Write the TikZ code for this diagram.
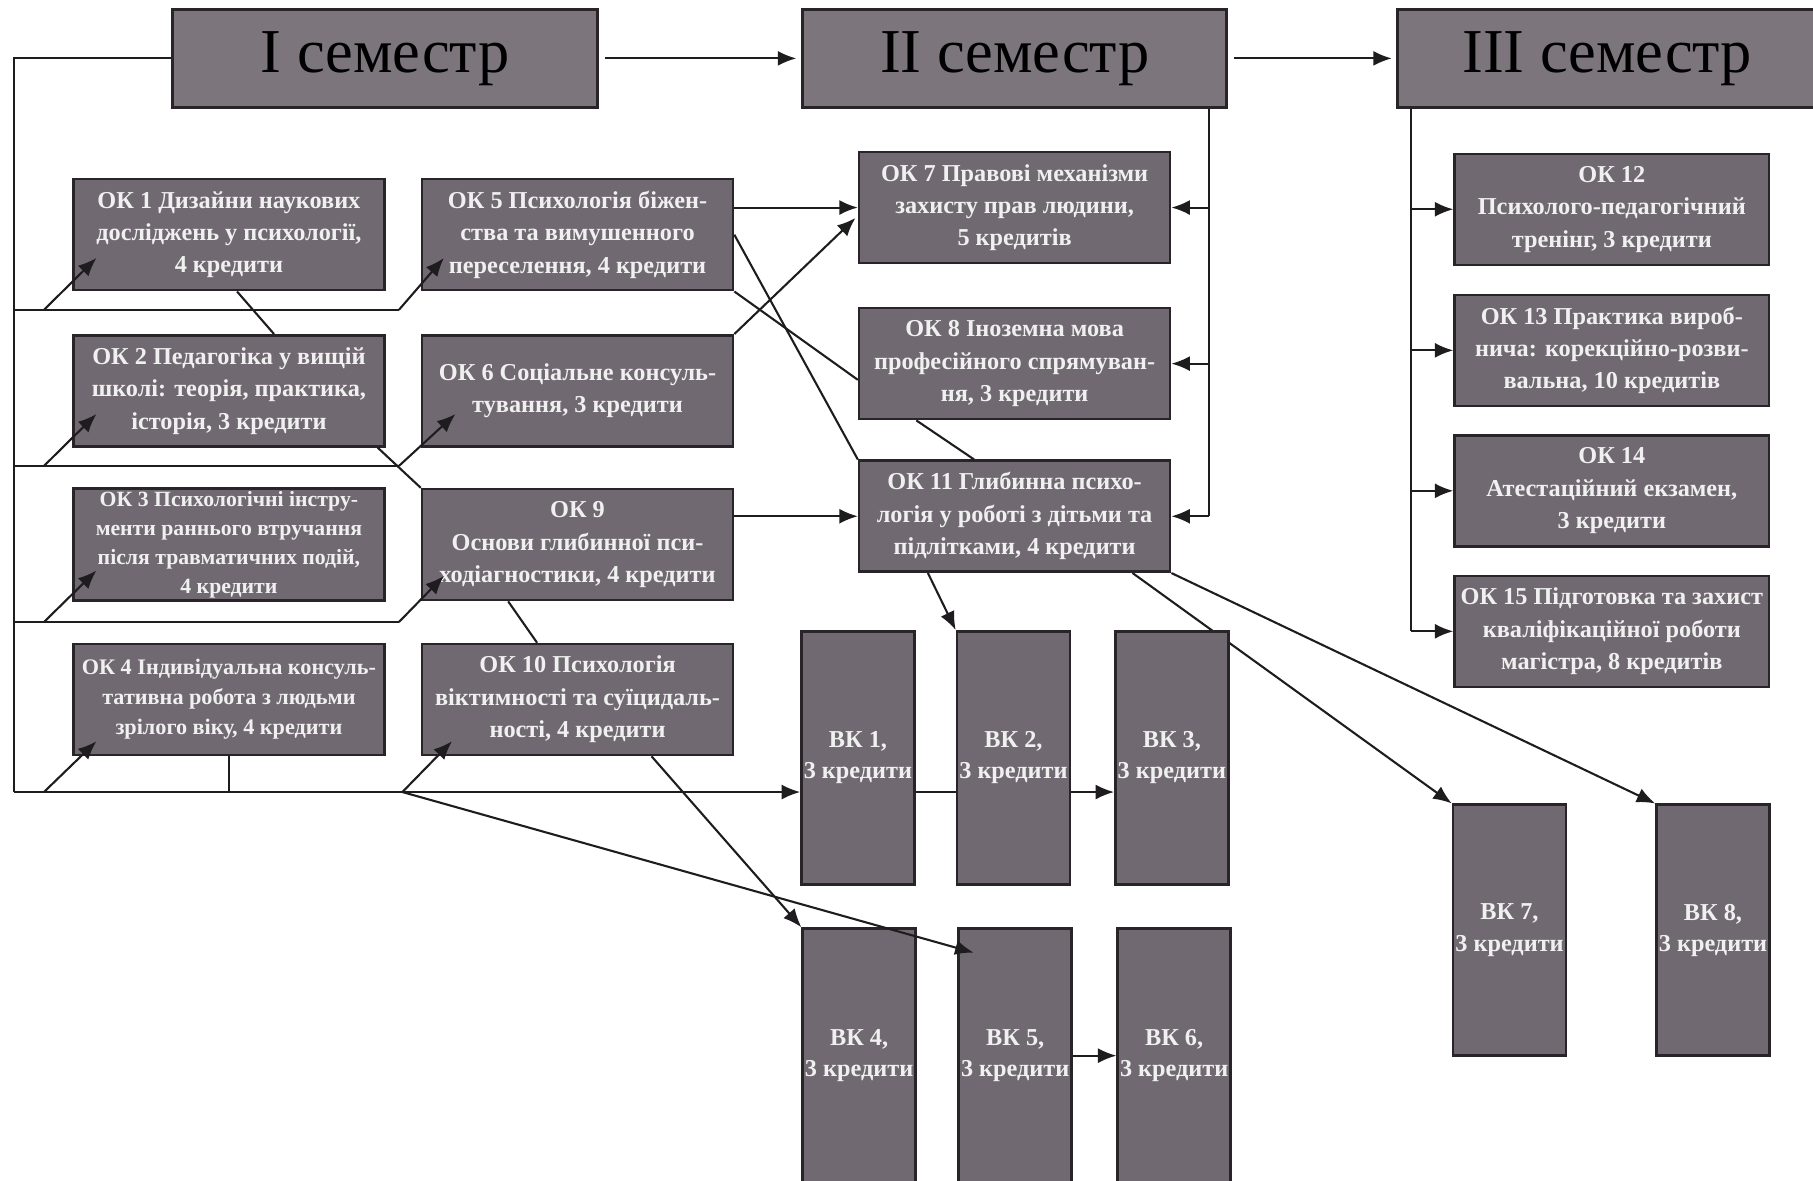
\documentclass[tikz,border=0pt]{standalone}
\usepackage{fontspec}
\setmainfont{Liberation Serif}
\usetikzlibrary{arrows.meta,calc}
\pgfdeclarelayer{background}
\pgfsetlayers{background,main}
\definecolor{boxfill}{RGB}{112,105,113}
\definecolor{semfill}{RGB}{124,118,124}
\definecolor{boxline}{RGB}{40,36,40}
\definecolor{txtlight}{RGB}{240,240,240}
\definecolor{linecol}{RGB}{30,28,30}
\begin{document}
\begin{tikzpicture}[x=0.5pt,y=-0.5pt,
  basebox/.style={draw=boxline, line width=1.1pt, fill=boxfill, text=txtlight, align=center, inner sep=1pt},
  okbox/.style={basebox, minimum width=134.5pt, minimum height=48pt, font=\bfseries\fontsize{10.5}{14}\selectfont},
  okwide/.style={okbox, minimum width=136pt},
  oksmall/.style={okbox, font=\bfseries\fontsize{9.4}{12.6}\selectfont},
  vkbox/.style={basebox, minimum width=47.5pt, minimum height=109.5pt, font=\bfseries\fontsize{10.5}{13.5}\selectfont},
  sembox/.style={draw=boxline, line width=1.3pt, fill=semfill, text=black, minimum height=42.5pt, font=\fontsize{27}{30}\selectfont},
  conn/.style={draw=linecol, line width=0.9pt},
  arr/.style={conn, -{Latex[length=8pt,width=6.5pt]}}
]
\begin{pgfonlayer}{background}
\fill[white] (0,0) rectangle (1568,1021);
\end{pgfonlayer}
\useasboundingbox (0,0) rectangle (1568,1021);

% semester boxes
\node[sembox, minimum width=184pt] (sem1) at (333,50.5) {I семестр};
\node[sembox, minimum width=183.5pt] (sem2) at (877.5,50.5) {II семестр};
\node[sembox, minimum width=181pt] (sem3) at (1390,50.5) {III семестр};

% column 1
\node[okbox] (ok1) at (198,203) {ОК 1 Дизайни наукових\\досліджень у психології,\\4 кредити};
\node[okbox] (ok2) at (198,338) {ОК 2 Педагогіка у вищій\\школі: теорія, практика,\\історія, 3 кредити};
\node[oksmall] (ok3) at (198,471) {ОК 3 Психологічні інстру-\\менти раннього втручання\\після травматичних подій,\\4 кредити};
\node[oksmall, font=\bfseries\fontsize{9.6}{13}\selectfont] (ok4) at (198,605) {ОК 4 Індивідуальна консуль-\\тативна робота з людьми\\зрілого віку, 4 кредити};
% column 2
\node[okbox] (ok5) at (499.5,203) {ОК 5 Психологія біжен-\\ства та вимушенного\\переселення, 4 кредити};
\node[okbox] (ok6) at (499.5,338) {ОК 6 Соціальне консуль-\\тування, 3 кредити};
\node[okbox] (ok9) at (499.5,471) {ОК 9\\Основи глибинної пси-\\ходіагностики, 4 кредити};
\node[okbox] (ok10) at (499.5,605) {ОК 10 Психологія\\віктимності та суїцидаль-\\ності, 4 кредити};
% column 3
\node[okbox] (ok7) at (877.5,179.5) {ОК 7 Правові механізми\\захисту прав людини,\\5 кредитів};
\node[okbox] (ok8) at (877.5,314.5) {ОК 8 Іноземна мова\\професійного спрямуван-\\ня, 3 кредити};
\node[okbox] (ok11) at (877.5,446.5) {ОК 11 Глибинна психо-\\логія у роботі з дітьми та\\підлітками, 4 кредити};
% column 4
\node[okwide] (ok12) at (1394,181) {ОК 12\\Психолого-педагогічний\\тренінг, 3 кредити};
\node[okwide] (ok13) at (1394,303) {ОК 13 Практика вироб-\\нича: корекційно-розви-\\вальна, 10 кредитів};
\node[okwide] (ok14) at (1394,424.5) {ОК 14\\Атестаційний екзамен,\\3 кредити};
\node[okwide] (ok15) at (1394,546) {ОК 15 Підготовка та захист\\кваліфікаційної роботи\\магістра, 8 кредитів};

% elective blocks
\node[vkbox] (vk1) at (742,655.5) {ВК 1,\\3 кредити};
\node[vkbox, minimum width=46.5pt] (vk2) at (876.5,655.5) {ВК 2,\\3 кредити};
\node[vkbox] (vk3) at (1013.5,655.5) {ВК 3,\\3 кредити};
\node[vkbox, minimum width=47pt, minimum height=110pt] (vk4) at (743,913) {ВК 4,\\3 кредити};
\node[vkbox, minimum width=47pt, minimum height=110pt] (vk5) at (878,913) {ВК 5,\\3 кредити};
\node[vkbox, minimum width=47.5pt, minimum height=110pt] (vk6) at (1015.5,913) {ВК 6,\\3 кредити};
\node[vkbox, minimum height=108.5pt] (vk7) at (1305.5,804.5) {ВК 7,\\3 кредити};
\node[vkbox, minimum width=48.5pt, minimum height=108.5pt] (vk8) at (1481.5,804.5) {ВК 8,\\3 кредити};

% semester arrows
\draw[arr] ([xshift=2.5pt]sem1.east) -- ([xshift=-2pt]sem2.west);
\draw[arr] ([xshift=2.5pt]sem2.east) -- ([xshift=-2pt]sem3.west);

% left bus
\coordinate (b1) at (12,268);
\coordinate (b2) at (12,403);
\coordinate (b3) at (12,538);
\coordinate (b4) at (12,685);
\coordinate (e1) at (345,268);
\coordinate (e2) at (345,403);
\coordinate (e3) at (345,538);
\coordinate (s1) at (38,268);
\coordinate (s2) at (38,403);
\coordinate (s3) at (38,538);
\coordinate (s4) at (38,685);
\coordinate (s4b) at (348,685);
\draw[conn] (sem1.west) -| (b4);
\draw[conn] (b1) -- (e1);
\draw[conn] (b2) -- (e2);
\draw[conn] (b3) -- (e3);
\draw[arr] (b4) -- (b4 -| vk1.west);
\draw[conn] (vk1.east |- b4) -- (vk2.west |- b4);
\draw[arr] (vk2.east |- b4) -- (vk3.west |- b4);
\draw[conn] (ok4.south) -- (ok4.south |- b4);

\draw[arr] (s1) -- ([shift={(21,-29)}]ok1.south west);
\draw[arr] (e1) -- ([shift={(20,-29)}]ok5.south west);
\draw[arr] (s2) -- ([shift={(21,-29)}]ok2.south west);
\draw[arr] (e2) -- ([shift={(30,-29)}]ok6.south west);
\draw[arr] (s3) -- ([shift={(21,-27)}]ok3.south west);
\draw[arr] (e3) -- ([shift={(20,-22)}]ok9.south west);
\draw[arr] (s4) -- ([shift={(21,-13)}]ok4.south west);
\draw[arr] (s4b) -- ([shift={(27,-13)}]ok10.south west);
\draw[arr] (s4b) -- ([shift={(14,22)}]vk5.north west);
\draw[arr] ([xshift=32pt]ok10.south) -- (vk4.north west);

% right buses
\coordinate (r2) at (1046,0);
\coordinate (r3) at (1220,0);
\draw[conn] (sem2.south -| r2) -- (ok11.east -| r2);
\draw[arr] (ok7.east -| r2) -- (ok7.east);
\draw[arr] (ok8.east -| r2) -- (ok8.east);
\draw[arr] (ok11.east -| r2) -- (ok11.east);
\draw[conn] (sem3.south -| r3) -- (ok15.west -| r3);
\draw[arr] (ok12.west -| r3) -- (ok12.west);
\draw[arr] (ok13.west -| r3) -- (ok13.west);
\draw[arr] (ok14.west -| r3) -- (ok14.west);
\draw[arr] (ok15.west -| r3) -- (ok15.west);

% middle connectors
\draw[arr] (ok5.east |- ok7.west) -- (ok7.west);
\draw[arr] (ok6.north east) -- ([shift={(-2,9)}]ok7.west);
\draw[conn] (ok5.east) -- (ok11.north west);
\draw[conn] (ok5.south east) -- ([shift={(0,14)}]ok8.west);
\draw[arr] (ok9.east |- ok11.west) -- (ok11.west);
\draw[conn] ([xshift=3.5pt]ok1.south) -- ([xshift=19.5pt]ok2.north);
\draw[conn] ([xshift=-3.5pt]ok2.south east) -- (ok9.north west);
\draw[conn] ([xshift=-30pt]ok9.south) -- ([xshift=-17.5pt]ok10.north);
\draw[conn] ([xshift=-42.5pt]ok8.south) -- ([xshift=-17.5pt]ok11.north);
\draw[arr] ([xshift=-37.5pt]ok11.south) -- (vk2.north west);
\begin{pgfonlayer}{background}
\draw[arr] ([xshift=51pt]ok11.south) -- (vk7.north west);
\end{pgfonlayer}
\draw[arr] (ok11.south east) -- (vk8.north west);
\draw[arr] (vk5.east) -- (vk6.west);
\end{tikzpicture}
\end{document}
